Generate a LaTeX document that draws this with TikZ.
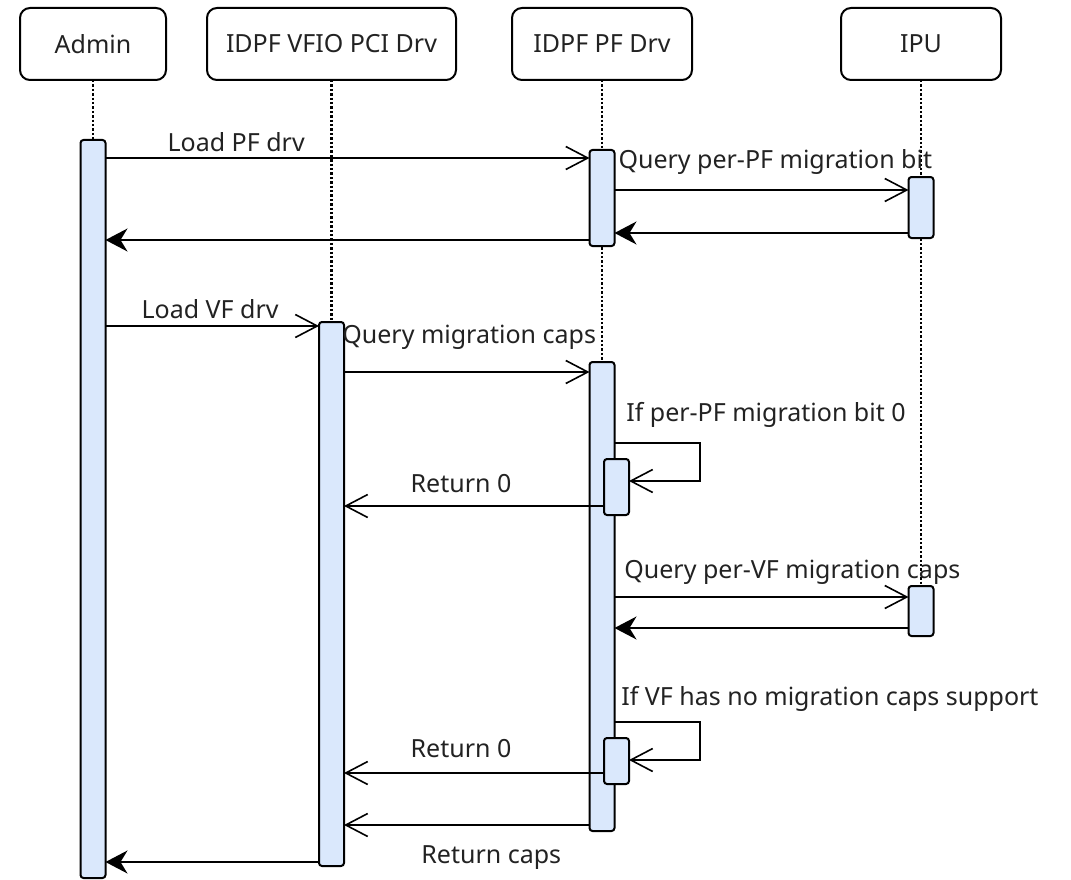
\documentclass[tikz,border=0pt]{standalone}
\usepackage{fontspec}
\setmainfont{Noto Sans}
\usepackage{xcolor}
\definecolor{actblue}{RGB}{218,232,252}
\definecolor{txtgrey}{RGB}{34,34,34}
\usepackage{tikz}
\usetikzlibrary{arrows.meta,positioning,backgrounds}

\begin{document}
\begin{tikzpicture}
[	x=1pt, y=-1pt,
	every node/.style = {font=\fontsize{25pt}{30pt}\selectfont, text=txtgrey},
	head/.style = {draw, line width=2pt, rounded corners=10pt, minimum height=72pt, inner sep=0pt, outer sep=0pt},
	act/.style = {draw, line width=2pt, fill=actblue, rounded corners=3pt, minimum width=25pt, inner sep=0pt, outer sep=0pt},
	life/.style = {line width=2.4pt, dash pattern=on 2.4pt off 2pt},
	call/.style = {line width=1.6pt, -{Straight Barb[length=22pt,width=23pt,line width=1.6pt]}},
	ret/.style = {line width=1.6pt, -{Stealth[length=22pt,width=23pt,inset=7pt]}},
	lbl/.style = {inner sep=0pt, anchor=base}
]
\useasboundingbox (0,0) rectangle (1071,880);

% participants
\node(admin)[head, minimum width=146pt] at (93,44) {Admin};
\node(vfio)[head, minimum width=249pt, right=41pt of admin] {IDPF VFIO PCI Drv};
\node(pf)[head, minimum width=180pt, right=56pt of vfio] {IDPF PF Drv};
\node(ipu)[head, minimum width=160pt, right=149pt of pf] {IPU};

% activations
\node(admA)[act, minimum height=738pt, below=60pt of admin] {};
\node(vfioA)[act, minimum height=544pt, below=242pt of vfio] {};
\node(pfA1)[act, minimum height=96pt, below=70pt of pf] {};
\node(pfA2)[act, minimum height=469pt, below=116pt of pfA1] {};
\node(ipuA1)[act, minimum height=61pt, below=97pt of ipu] {};
\node(ipuA2)[act, minimum height=50pt, below=348pt of ipuA1] {};
\node(nA1)[act, minimum height=56pt, anchor=north] at (616.5,459) {};
\node(nA2)[act, minimum height=46pt, anchor=north] at (616.5,738) {};

% lifelines
\begin{scope}[on background layer]
\draw[life] (admin.south)--(admA.north);
\draw[life] (vfio.south)--(vfioA.south);
\draw[life] (pf.south)--(pfA2.south);
\draw[life] (ipu.south)--(ipuA2.south);
\end{scope}

% message rows
\coordinate (m1) at (0,158);
\coordinate (m2) at (0,190);
\coordinate (r1) at (0,233);
\coordinate (r2) at (0,240);
\coordinate (m3) at (0,326);
\coordinate (m4) at (0,372);
\coordinate (m5) at (0,443);
\coordinate (lp1) at (700,481);
\coordinate (r3) at (0,506);
\coordinate (m6) at (0,597);
\coordinate (r4) at (0,628);
\coordinate (m7) at (0,722);
\coordinate (lp2) at (700,760);
\coordinate (r5) at (0,773);
\coordinate (r6) at (0,825);
\coordinate (r7) at (0,862);

% load PF driver
\draw[call] (admA.east |- m1)--node[lbl, pos=.27, yshift=6pt]{Load PF drv}(pfA1.west |- m1);
\draw[call] (pfA1.east |- m2)--node[lbl, pos=.547, yshift=22pt]{Query per-PF migration bit}(ipuA1.west |- m2);
\draw[ret] (ipuA1.west |- r1)--(pfA1.east |- r1);
\draw[ret] (pfA1.west |- r2)--(admA.east |- r2);

% load VF driver
\draw[call] (admA.east |- m3)--node[lbl, pos=.49, yshift=8pt]{Load VF drv}(vfioA.west |- m3);
\draw[call] (vfioA.east |- m4)--node[lbl, pos=.51, yshift=29pt]{Query migration caps}(pfA2.west |- m4);

% per-PF bit check
\draw[call] (pfA2.east |- m5) -| node[lbl, pos=0, anchor=base west, xshift=11pt, yshift=22pt]{If per-PF migration bit 0}(lp1)--(nA1.east |- lp1);
\draw[call] (nA1.west |- r3)--node[lbl, pos=.55, yshift=14pt]{Return 0}(vfioA.east |- r3);

% per-VF caps
\draw[call] (pfA2.east |- m6)--node[lbl, pos=.605, yshift=19pt]{Query per-VF migration caps}(ipuA2.west |- m6);
\draw[ret] (ipuA2.west |- r4)--(pfA2.east |- r4);
\draw[call] (pfA2.east |- m7) -| node[lbl, pos=0, anchor=base west, xshift=6pt, yshift=17pt]{If VF has no migration caps support}(lp2)--(nA2.east |- lp2);
\draw[call] (nA2.west |- r5)--node[lbl, pos=.55, yshift=16pt]{Return 0}(vfioA.east |- r5);

% return caps
\draw[call] (pfA2.west |- r6)--node[lbl, pos=.40, yshift=-38pt]{Return caps}(vfioA.east |- r6);
\draw[ret] (vfioA.west |- r7)--(admA.east |- r7);

\end{tikzpicture}
\end{document}
